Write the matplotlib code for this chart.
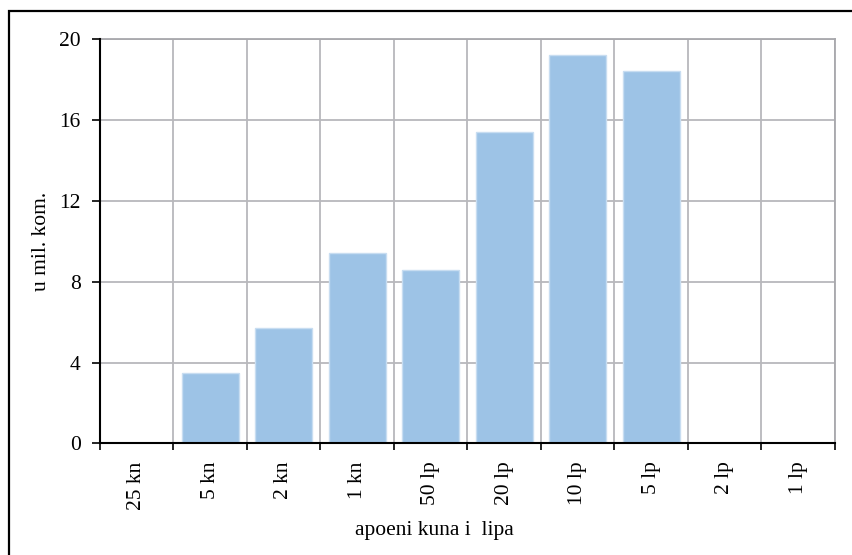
import matplotlib
matplotlib.use("Agg")
import matplotlib.pyplot as plt
from matplotlib.patches import Rectangle

# Coins in circulation by denomination (millions of pieces)
denominations = ["25 kn", "5 kn", "2 kn", "1 kn", "50 lp", "20 lp", "10 lp", "5 lp", "2 lp", "1 lp"]
pieces_mil = [0.0, 3.47, 5.69, 9.41, 8.58, 15.40, 19.20, 18.43, 0.0, 0.0]
y_ticks = [0, 4, 8, 12, 16, 20]

plt.rcParams["font.family"] = ["Liberation Serif", "DejaVu Serif"]

W, H = 853, 555
fig = plt.figure(figsize=(W / 100, H / 100), dpi=100)
ax = fig.add_axes([100 / W, 1 - 443.3 / H, 735 / W, 404 / H])

x = list(range(len(denominations)))
ax.bar(x, pieces_mil, width=0.77, color="#9DC3E6", edgecolor="#C8DDF1",
       linewidth=1.0, zorder=3)

ax.set_xlim(-0.5, len(denominations) - 0.5)
ax.set_ylim(0, 20)
ax.set_yticks(y_ticks)
ax.set_yticklabels([str(v) for v in y_ticks], fontsize=15.5)

# Category labels sit at bar centres; ticks/grid at category boundaries
ax.set_xticks(x)
ax.set_xticklabels(denominations, rotation=90, fontsize=15.5, va="top")
ax.set_xticks([i - 0.5 for i in range(len(denominations) + 1)], minor=True)
ax.tick_params(axis="x", which="major", length=0, pad=13)
ax.tick_params(axis="x", which="minor", length=5, width=1.2, direction="out", color="black")
ax.tick_params(axis="y", which="major", length=6, width=1.2, direction="out", pad=8, color="black")

ax.grid(True, axis="y", which="major", color="#B8B8BC", linewidth=1.3, zorder=0)
ax.grid(True, axis="x", which="minor", color="#B8B8BC", linewidth=1.3, zorder=0)
ax.set_axisbelow(True)

for side in ("top", "right"):
    ax.spines[side].set_color("#A8A8AC")
    ax.spines[side].set_linewidth(1.3)
for side in ("left", "bottom"):
    ax.spines[side].set_color("black")
    ax.spines[side].set_linewidth(1.5)
    ax.spines[side].set_zorder(4)

ax.set_ylabel("u mil. kom.", fontsize=15.5, labelpad=6)
fig.text(434 / W, 1 - 530 / H, "apoeni kuna i  lipa", fontsize=15.5,
         ha="center", va="center")

# Chart frame
fig.patches.append(Rectangle((8.5 / W, -0.1), 1.2, 1 - 11 / H + 0.1,
                             transform=fig.transFigure, fill=False,
                             edgecolor="black", linewidth=1.6))

fig.savefig("out.png", dpi=100, facecolor="white")
